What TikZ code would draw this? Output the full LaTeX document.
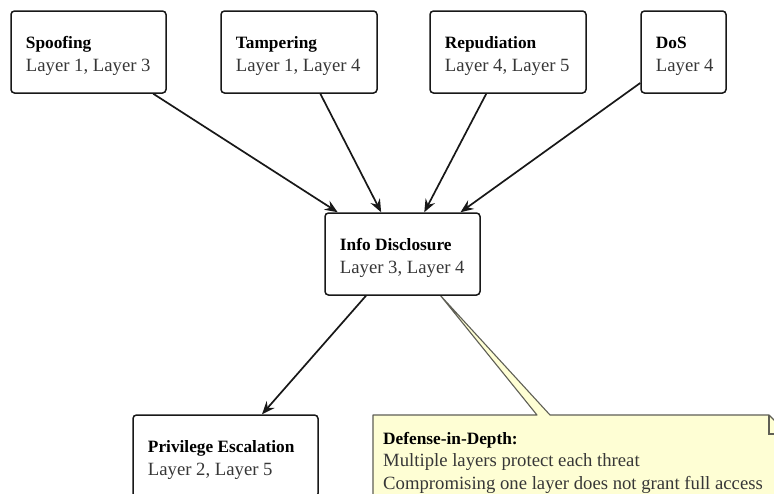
\documentclass[tikz,border=0pt]{standalone}
\usepackage{fontspec}
\setmainfont{Liberation Serif}
\usetikzlibrary{arrows.meta}
\definecolor{notefill}{RGB}{254,254,212}
\definecolor{noteline}{RGB}{95,95,85}
\definecolor{ink}{RGB}{24,24,24}
\definecolor{bodytext}{RGB}{55,55,55}
\newcommand{\ttl}[1]{{\fontsize{17.3}{22.5}\selectfont\bfseries\color{black}#1}}
\newcommand{\bd}[1]{{\color{bodytext}#1}}
\newcommand{\boxtext}[2]{\fontsize{18.7}{22.5}\selectfont\begin{tabular}[t]{@{}l@{}}\ttl{#1}\\\bd{#2}\end{tabular}}
\begin{document}
\begin{tikzpicture}[x=1pt,y=-1pt,
  box/.style={draw=ink, line width=1.5pt, rounded corners=3.5pt, fill=white, inner sep=0pt, minimum height=82pt},
  txt/.style={inner sep=0pt, anchor=base west},
  arr/.style={draw=ink, line width=1.7pt, -{Stealth[length=13pt,width=10.5pt,inset=4.5pt]}}]
\useasboundingbox (0,0) rectangle (774,493);
\clip (0,0) rectangle (774,493);
\fill[white] (0,0) rectangle (774,493);

% boxes
\node[box, minimum width=155pt] (spoof) at (88.5,52) {};
\node[box, minimum width=156pt] (tamper) at (299,52) {};
\node[box, minimum width=156pt] (repud) at (508,52) {};
\node[box, minimum width=85pt] (dos) at (683.5,52) {};
\node[box, minimum width=185pt] (priv) at (225.5,456) {};

% note with pointer
\coordinate (tip) at (440,295);
\fill[notefill] (373,500) -- (373,415) -- (537,415) -- (tip) -- (550,415) -- (769,415) -- (788,434) -- (788,500) -- cycle;
\draw[noteline, line width=1.1pt, line join=round] (373,500) -- (373,415) -- (537,415) -- (tip) -- (550,415) -- (769,415) -- (788,434) -- (788,500);
\draw[noteline, line width=1.1pt] (769,415) -- (769,434) -- (788,434);
\node[box, minimum width=155pt] (info) at (402.5,254) {};

% texts
\node[txt] (spoofT) at ([shift={(15.5,38.5)}]spoof.north west) {\boxtext{Spoofing}{Layer 1, Layer 3}};
\node[txt] (tamperT) at ([shift={(15.5,38.5)}]tamper.north west) {\boxtext{Tampering}{Layer 1, Layer 4}};
\node[txt] (repudT) at ([shift={(15.5,38.5)}]repud.north west) {\boxtext{Repudiation}{Layer 4, Layer 5}};
\node[txt] (dosT) at ([shift={(15.5,38.5)}]dos.north west) {\boxtext{DoS}{Layer 4}};
\node[txt] (infoT) at ([shift={(15.5,38.5)}]info.north west) {\boxtext{Info Disclosure}{Layer 3, Layer 4}};
\node[txt] (privT) at ([shift={(15.5,38.5)}]priv.north west) {\boxtext{Privilege Escalation}{Layer 2, Layer 5}};
\node[txt] (noteT) at (383,444) {\fontsize{18.7}{22.5}\selectfont\begin{tabular}[t]{@{}l@{}}\ttl{Defense-in-Depth:}\\\bd{Multiple layers protect each threat}\\\bd{Compromising one layer does not grant full access}\end{tabular}};

% connectors
\draw[arr] (spoof) -- (info);
\draw[arr] (tamper) -- (info);
\draw[arr] (repud) -- (info);
\draw[arr] (dos) -- (info);
\draw[arr] (info) -- (priv);
\end{tikzpicture}
\end{document}
